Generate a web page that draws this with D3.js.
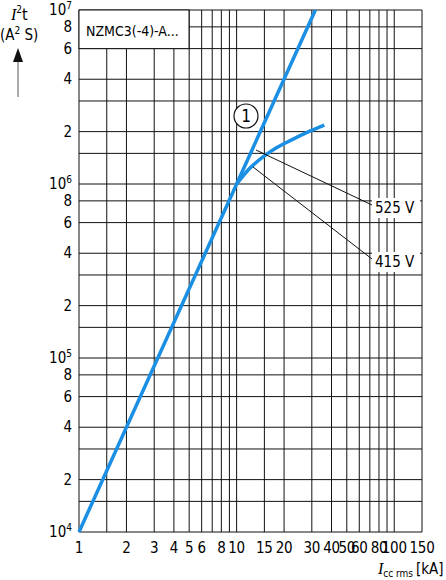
<!DOCTYPE html>
<html><head><meta charset="utf-8">
<script src="https://cdn.jsdelivr.net/npm/d3@7"></script>
<style>body{margin:0;background:#fff}text{font-family:"Liberation Sans Narrow","DejaVu Sans Condensed",sans-serif}</style>
</head><body>
<svg id="c" width="446" height="580"></svg>
<script>
// grid lines
const xGrid = [1,1.5,2,3,4,5,6,7,8,9,10,15,20,30,40,50,60,70,80,90,100,150];
const xLabels = [1,2,3,4,5,6,8,10,15,20,30,40,50,60,80,100,150];
const yGrid = [];
[1e4,1e5,1e6].forEach(d => [1,1.5,2,3,4,6,8].forEach(m => yGrid.push(d*m)));
yGrid.push(1e7);
const yLabels = [1e4,2e4,4e4,6e4,8e4,1e5,2e5,4e5,6e5,8e5,1e6,2e6,4e6,6e6,8e6,1e7];
// curves
const line1 = [[1,1e4],[10,1e6],[31.6,1e7]];
const curve525 = [[10,1e6],[12,1.22e6],[15,1.45e6],[18,1.62e6],[22,1.78e6],[28,1.98e6],[36,2.18e6]];

const svg = d3.select("#c");
const x = d3.scaleLog().domain([1,150]).range([79,422]);
const y = d3.scaleLog().domain([1e4,1e7]).range([532,10]);

svg.append("g").selectAll("line").data(xGrid).enter().append("line")
    .attr("x1", d => x(d)).attr("x2", d => x(d)).attr("y1", 10).attr("y2", 532)
    .attr("stroke", "#111").attr("stroke-width", 1);
svg.append("g").selectAll("line").data(yGrid).enter().append("line")
    .attr("x1", 79).attr("x2", 422).attr("y1", d => y(d)).attr("y2", d => y(d))
    .attr("stroke", "#111").attr("stroke-width", 1);

// title box
svg.append("rect").attr("x", 79).attr("y", 10).attr("width", 110).attr("height", y(6e6)-10)
    .attr("fill", "#fff").attr("stroke", "#111");
svg.append("text").attr("x", 86).attr("y", 36).attr("font-size", 14).text("NZMC3(-4)-A...");

svg.selectAll(".xl").data(xLabels).enter().append("text")
    .attr("x", d => x(d)).attr("y", 553).attr("text-anchor", "middle").attr("font-size", 15)
    .attr("letter-spacing", -0.3).text(d => d);

yLabels.forEach(d => {
    const e = Math.log10(d);
    const t = svg.append("text").attr("x", 72).attr("y", y(d) + 5).attr("text-anchor", "end").attr("font-size", 15);
    if (Number.isInteger(e) ) {
        t.text("10");
        t.append("tspan").attr("font-size", 10).attr("dy", -6).text(e);
    } else t.text(Math.round(d / Math.pow(10, Math.floor(e))));
});

const ln = d3.line().x(d => x(d[0])).y(d => y(d[1]));
svg.append("path").datum(curve525).attr("d", ln.curve(d3.curveMonotoneX))
    .attr("fill", "none").attr("stroke", "#1a8fe3").attr("stroke-width", 3.5);
svg.append("path").datum(line1).attr("d", d3.line().x(d => x(d[0])).y(d => y(d[1])))
    .attr("fill", "none").attr("stroke", "#1a8fe3").attr("stroke-width", 3.5);

// leaders and labels
svg.append("line").attr("x1", 256).attr("y1", 150).attr("x2", 372).attr("y2", 205).attr("stroke", "#111");
svg.append("line").attr("x1", 253).attr("y1", 167).attr("x2", 372).attr("y2", 259).attr("stroke", "#111");
[["525 V", 213], ["415 V", 267]].forEach(([s, yy]) => {
    svg.append("rect").attr("x", 372).attr("y", yy - 15).attr("width", 48).attr("height", 20).attr("fill", "#fff");
    svg.append("text").attr("x", 375).attr("y", yy).attr("font-size", 15).text(s);
});
svg.append("circle").attr("cx", 246).attr("cy", 116).attr("r", 12).attr("fill", "#fff").attr("stroke", "#111").attr("stroke-width", 1.2);
svg.append("text").attr("x", 246).attr("y", 122).attr("text-anchor", "middle").attr("font-size", 17).text("1");

// axis titles
const yt = svg.append("text").attr("x", 11).attr("y", 20).attr("font-size", 16);
yt.append("tspan").attr("font-family", "Liberation Serif").attr("font-style", "italic").text("I");
yt.append("tspan").attr("font-size", 10).attr("dy", -7).text("2");
yt.append("tspan").attr("dy", 7).text("t");
const yu = svg.append("text").attr("x", 0).attr("y", 40).attr("font-size", 15).text("(A");
yu.append("tspan").attr("font-size", 10).attr("dy", -6).text("2");
yu.append("tspan").attr("dy", 6).text(" S)");
svg.append("line").attr("x1", 18).attr("x2", 18).attr("y1", 97).attr("y2", 62).attr("stroke", "#555");
svg.append("path").attr("d", "M13,62 L18,48 L23,62 Z").attr("fill", "#111");

const xt = svg.append("text").attr("x", 378).attr("y", 574).attr("font-size", 15);
xt.append("tspan").attr("font-family", "Liberation Serif").attr("font-style", "italic").attr("font-size", 16).text("I");
xt.append("tspan").attr("font-size", 10).attr("dy", 3).text("cc rms ");
xt.append("tspan").attr("dy", -3).text("[kA]");
</script>
</body></html>
